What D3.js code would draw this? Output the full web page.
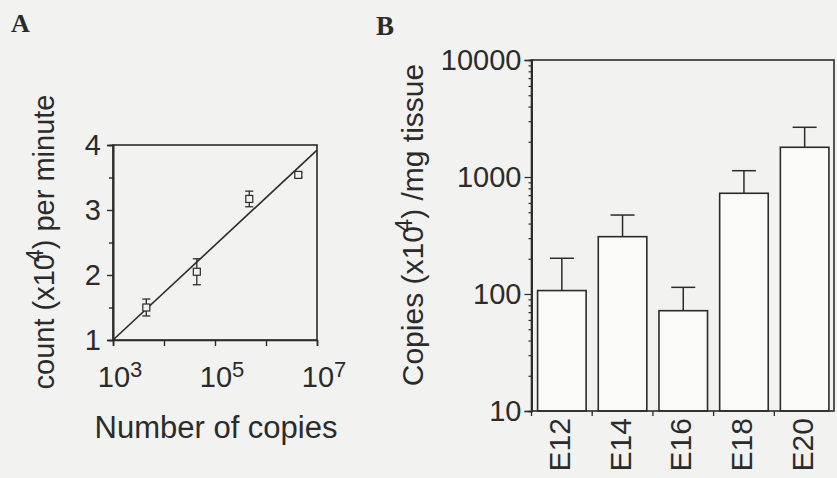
<!DOCTYPE html>
<html><head><meta charset="utf-8">
<script src="https://cdn.jsdelivr.net/npm/d3@7"></script>
<style>
html,body{margin:0;padding:0;background:#f2f2f0;}
svg{display:block;}
text{font-family:"Liberation Sans",Arial,Helvetica,sans-serif;fill:#2b2b2b;}
</style></head><body>
<svg id="c" width="837" height="478"></svg>
<script>
// ---- Panel A data ----
const copies = [4500, 44000, 470000, 4300000];
const counts = [1.50, 2.05, 3.17, 3.54];
const countErr = [0.13, 0.20, 0.12, 0.03];
const fitX = [1e3, 1e7];
const fitY = [1.0, 3.92];
const aYTicks = [1, 2, 3, 4];
const aYMinor = [1.5, 2.5, 3.5];
const aXTicks = [1e3, 1e4, 1e5, 1e6, 1e7];
const aXLabelExp = [3, 5, 7];

// ---- Panel B data ----
const stages = ["E12", "E14", "E16", "E18", "E20"];
const copiesPerMg = [107, 309, 72, 726, 1795];
const copiesErr = [95, 164, 42, 406, 865];
const bYTicks = [10, 100, 1000, 10000];

const ink = "#2b2b2b";
const svg = d3.select("#c");

// ================= Panel A =================
const ax = d3.scaleLog().domain([1e3, 1e7]).range([113, 317]);
const ay = d3.scaleLinear().domain([1, 4]).range([340, 145]);
const gA = svg.append("g");

gA.append("rect").attr("x", ax.range()[0]).attr("y", ay.range()[1])
  .attr("width", ax.range()[1] - ax.range()[0]).attr("height", ay.range()[0] - ay.range()[1])
  .attr("fill", "none").attr("stroke", ink).attr("stroke-width", 1.6);

const ayAxis = gA.append("g").attr("transform", `translate(${ax.range()[0]},0)`)
  .call(d3.axisLeft(ay).tickValues(aYTicks).tickSize(6).tickPadding(6).tickFormat(d3.format("d")));
const ayMinor = gA.append("g").attr("transform", `translate(${ax.range()[0]},0)`)
  .call(d3.axisLeft(ay).tickValues(aYMinor).tickSize(4).tickFormat(""));
const axAxis = gA.append("g").attr("transform", `translate(0,${ay.range()[0]})`)
  .call(d3.axisBottom(ax).tickValues(aXTicks).tickSize(6).tickFormat(""));
[ayAxis, ayMinor, axAxis].forEach(g => {
  g.select(".domain").attr("stroke", ink).attr("stroke-width", 1.6);
  g.selectAll(".tick line").attr("stroke", ink).attr("stroke-width", 1.4);
});
ayAxis.selectAll(".tick text").attr("font-size", 29).attr("fill", ink)
  .attr("font-family", "Liberation Sans, Arial, sans-serif");

aXLabelExp.forEach(e => {
  const xp = ax(Math.pow(10, e));
  gA.append("text").attr("x", xp + 1).attr("y", 387).attr("text-anchor", "middle")
    .attr("font-size", 29).text("10");
  gA.append("text").attr("x", xp + 17).attr("y", 377).attr("text-anchor", "start")
    .attr("font-size", 22).text(e);
});

gA.append("line").attr("x1", ax(fitX[0])).attr("y1", ay(fitY[0]))
  .attr("x2", ax(fitX[1])).attr("y2", ay(fitY[1]))
  .attr("stroke", ink).attr("stroke-width", 1.6);

copies.forEach((c, i) => {
  const xp = ax(c), y0 = ay(counts[i] - countErr[i]), y1 = ay(counts[i] + countErr[i]);
  gA.append("line").attr("x1", xp).attr("x2", xp).attr("y1", y0).attr("y2", y1)
    .attr("stroke", ink).attr("stroke-width", 1.3);
  [y0, y1].forEach(yy => gA.append("line").attr("x1", xp - 4).attr("x2", xp + 4)
    .attr("y1", yy).attr("y2", yy).attr("stroke", ink).attr("stroke-width", 1.3));
  gA.append("rect").attr("x", xp - 3.5).attr("y", ay(counts[i]) - 3.5)
    .attr("width", 7).attr("height", 7).attr("fill", "#f2f2f0")
    .attr("stroke", ink).attr("stroke-width", 1.2);
});

gA.append("text").attr("x", 216).attr("y", 438).attr("text-anchor", "middle")
  .attr("font-size", 31).text("Number of copies");
const tA = gA.append("text").attr("transform", "translate(54,242) rotate(-90)")
  .attr("text-anchor", "middle").attr("font-size", 29);
tA.append("tspan").text("count (x10");
tA.append("tspan").attr("dy", -11).attr("dx", -8).attr("font-size", 23).text("4");
tA.append("tspan").attr("dy", 11).text(") per minute");

svg.append("text").attr("x", 11).attr("y", 32).attr("font-size", 26)
  .attr("font-weight", "bold").style("font-family", "Liberation Serif, Times New Roman, serif").text("A");

// ================= Panel B =================
const bx = d3.scaleBand().domain(stages).range([531.5, 835]).paddingInner(0.2).paddingOuter(0.1);
const by = d3.scaleLog().domain([10, 10000]).range([411, 60]);
const gB = svg.append("g");

stages.forEach((s, i) => {
  const x0 = bx(s), w = bx.bandwidth(), cx = x0 + w / 2;
  const top = by(copiesPerMg[i]), errTop = by(copiesPerMg[i] + copiesErr[i]);
  gB.append("line").attr("x1", cx).attr("x2", cx).attr("y1", top).attr("y2", errTop)
    .attr("stroke", ink).attr("stroke-width", 1.5);
  gB.append("line").attr("x1", cx - 12).attr("x2", cx + 12).attr("y1", errTop).attr("y2", errTop)
    .attr("stroke", ink).attr("stroke-width", 1.5);
  gB.append("rect").attr("x", x0).attr("y", top).attr("width", w).attr("height", by(10) - top)
    .attr("fill", "#fafaf8").attr("stroke", ink).attr("stroke-width", 1.6);
});

gB.append("rect").attr("x", bx.range()[0]).attr("y", by.range()[1])
  .attr("width", bx.range()[1] - bx.range()[0] - 1).attr("height", by.range()[0] - by.range()[1])
  .attr("fill", "none").attr("stroke", ink).attr("stroke-width", 1.6);

const byAxis = gB.append("g").attr("transform", `translate(${bx.range()[0]},0)`)
  .call(d3.axisLeft(by).tickValues(bYTicks).tickSize(7).tickPadding(3).tickFormat(d3.format("d")));
const byMinorVals = by.ticks().filter(v => !bYTicks.includes(v));
const byMinor = gB.append("g").attr("transform", `translate(${bx.range()[0]},0)`)
  .call(d3.axisLeft(by).tickValues(byMinorVals).tickSize(3).tickFormat(""));
[byAxis, byMinor].forEach(g => {
  g.select(".domain").attr("stroke", ink).attr("stroke-width", 1.6);
  g.selectAll(".tick line").attr("stroke", ink).attr("stroke-width", 1.2);
});
byAxis.selectAll(".tick text").attr("font-size", 29).attr("fill", ink)
  .attr("font-family", "Liberation Sans, Arial, sans-serif");

const bounds = stages.map(s => bx(s) - bx.step() * bx.paddingInner() / 2);
gB.selectAll(".bt").data(bounds).enter().append("line")
  .attr("x1", d => d).attr("x2", d => d).attr("y1", by(10)).attr("y2", by(10) + 5)
  .attr("stroke", ink).attr("stroke-width", 1.3);
stages.forEach(s => {
  const cx = bx(s) + bx.bandwidth() / 2;
  gB.append("text").attr("transform", `translate(${cx + 8},418) rotate(-90)`)
    .attr("text-anchor", "end").attr("font-size", 30).text(s);
});

const tB = gB.append("text").attr("transform", "translate(423,225) rotate(-90)")
  .attr("text-anchor", "middle").attr("font-size", 30);
tB.append("tspan").text("Copies (x10");
tB.append("tspan").attr("dy", -11).attr("dx", -6).attr("font-size", 24).text("4");
tB.append("tspan").attr("dy", 11).text(") /mg tissue");

svg.append("text").attr("x", 376).attr("y", 35).attr("font-size", 27)
  .attr("font-weight", "bold").style("font-family", "Liberation Serif, Times New Roman, serif").text("B");
</script>
</body></html>
